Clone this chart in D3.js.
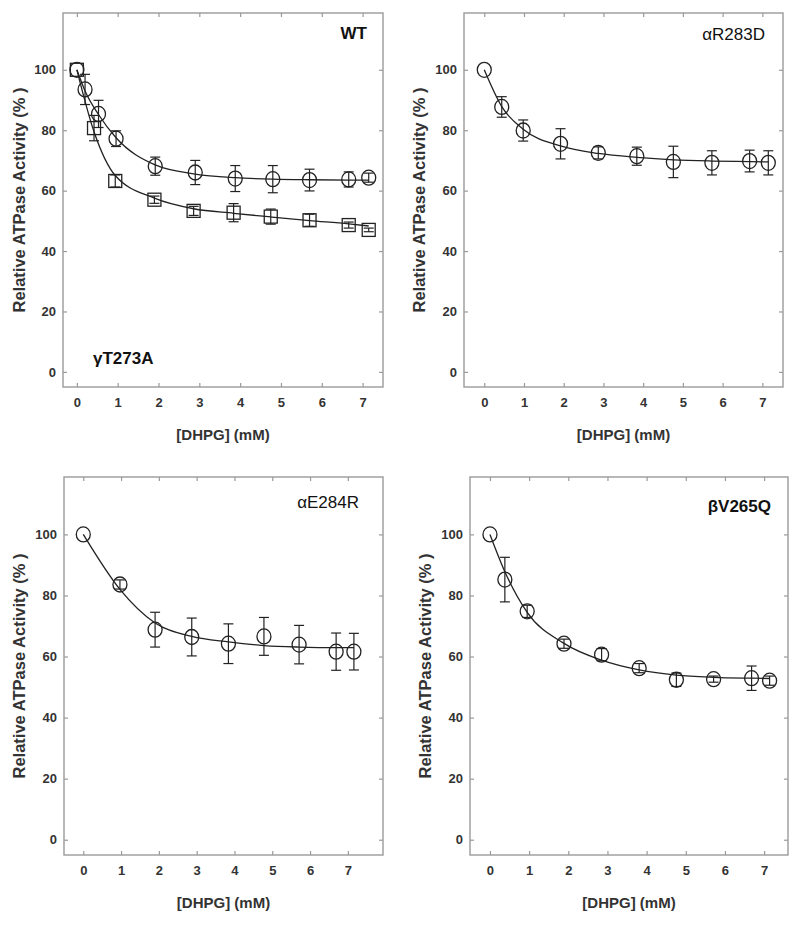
<!DOCTYPE html>
<html>
<head>
<meta charset="utf-8">
<script src="https://cdn.jsdelivr.net/npm/d3@7/dist/d3.min.js"></script>
<style>
  html, body { margin: 0; padding: 0; background: #fff; }
  svg { display: block; font-family: "Liberation Sans", Arial, sans-serif; }
</style>
</head>
<body>
<svg id="chart" width="800" height="926"></svg>
<script>
// ---------- data ----------
const xTicks = [0, 1, 2, 3, 4, 5, 6, 7];
const yTicks = [0, 20, 40, 60, 80, 100];
const xTitle = "[DHPG] (mM)";
const yTitle = "Relative ATPase Activity (% )";

// WT (circles)
const wtX   = [0, 0.2, 0.53, 0.96, 1.92, 2.9, 3.88, 4.8, 5.7, 6.66, 7.15];
const wtY   = [100, 93.5, 85.4, 77.2, 68.1, 66, 64, 63.8, 63.5, 63.7, 64.3];
const wtErr = [0, 5, 4.5, 2.6, 3, 4, 4.3, 4.5, 3.6, 2.5, 1.5];
const wtFit = [100, 93, 85.2, 77.5, 68.5, 65.5, 64.3, 63.8, 63.6, 63.5, 63.5];

// γT273A (squares)
const gX   = [0, 0.42, 0.94, 1.9, 2.86, 3.84, 4.75, 5.7, 6.66, 7.15];
const gY   = [100, 80.7, 63.2, 57, 53.3, 52.7, 51.4, 50.2, 48.6, 47];
const gErr = [0, 4.2, 2, 1.2, 1.5, 3, 2.5, 2, 1, 0.6];
const gFit = [100, 79.5, 65, 57.5, 54, 52.5, 51.3, 50.1, 49, 48.3];

// αR283D
const rX   = [0, 0.44, 0.98, 1.92, 2.87, 3.84, 4.76, 5.73, 6.68, 7.15];
const rY   = [100, 87.7, 79.9, 75.5, 72.5, 71.4, 69.5, 69.2, 69.8, 69.2];
const rErr = [0, 3.4, 3.5, 5, 2, 3, 5.2, 4, 3.6, 4];
const rFit = [100, 87.8, 80.3, 74.8, 72.3, 71, 70.2, 69.8, 69.6, 69.5];

// αE284R
const eX   = [0, 0.97, 1.9, 2.87, 3.84, 4.78, 5.71, 6.69, 7.16];
const eY   = [100, 83.6, 68.8, 66.4, 64.2, 66.6, 63.9, 61.6, 61.6];
const eErr = [0, 1.5, 5.7, 6.2, 6.5, 6.2, 6.3, 6.1, 6];
const eFit = [100, 82, 71, 66.6, 64.8, 63.6, 63.1, 62.9, 62.9];

// βV265Q
const bX   = [0, 0.38, 0.95, 1.89, 2.85, 3.81, 4.76, 5.71, 6.68, 7.14];
const bY   = [100, 85.2, 74.8, 64.2, 60.6, 56.2, 52.4, 52.6, 52.9, 52.1];
const bErr = [0, 7.3, 2, 1.5, 2, 1.5, 2.2, 1, 4, 1.5];
const bFit = [100, 87.8, 74.5, 64.3, 58.8, 55.6, 53.9, 53.2, 52.9, 52.8];

// ---------- layout ----------
const panels = [
  { left: 63, right: 383, top: 13, bottom: 387, xDom: [-0.34, 7.5], yTitleX: 19,
    labels: [{ text: "WT", x: 367, y: 39, anchor: "end", weight: "bold" },
             { text: "γT273A", x: 93, y: 364, anchor: "start", weight: "bold" }],
    series: [
      { x: wtX, y: wtY, err: wtErr, fit: wtFit, shape: "circle" },
      { x: gX, y: gY, err: gErr, fit: gFit, shape: "square" }
    ] },
  { left: 464, right: 783, top: 13, bottom: 387, xDom: [-0.51, 7.52], yTitleX: 419,
    labels: [{ text: "αR283D", x: 765, y: 40, anchor: "end", weight: "normal" }],
    series: [{ x: rX, y: rY, err: rErr, fit: rFit, shape: "circle" }] },
  { left: 64, right: 383, top: 477, bottom: 855, xDom: [-0.51, 7.93], yTitleX: 19,
    labels: [{ text: "αE284R", x: 359, y: 508, anchor: "end", weight: "normal" }],
    series: [{ x: eX, y: eY, err: eErr, fit: eFit, shape: "circle" }] },
  { left: 470, right: 788, top: 477, bottom: 855, xDom: [-0.51, 7.61], yTitleX: 425,
    labels: [{ text: "βV265Q", x: 771, y: 512, anchor: "end", weight: "bold" }],
    series: [{ x: bX, y: bY, err: bErr, fit: bFit, shape: "circle" }] }
];

const svg = d3.select("#chart");
const frameColor = "#9a9a9a";
const inkColor = "#222";
const tickLen = 4;

panels.forEach(p => {
  const x = d3.scaleLinear().domain(p.xDom).range([p.left, p.right]);
  const y = d3.scaleLinear().domain([-5, 118.8]).range([p.bottom, p.top]);
  const g = svg.append("g");

  // axes with inward ticks on all four sides
  const axB = g.append("g").attr("transform", `translate(0,${p.bottom})`)
    .call(d3.axisBottom(x).tickValues(xTicks).tickSize(-tickLen).tickPadding(11).tickFormat(d3.format("d")));
  const axT = g.append("g").attr("transform", `translate(0,${p.top})`)
    .call(d3.axisTop(x).tickValues(xTicks).tickSize(-tickLen).tickFormat(""));
  const axL = g.append("g").attr("transform", `translate(${p.left},0)`)
    .call(d3.axisLeft(y).tickValues(yTicks).tickSize(-tickLen).tickPadding(7).tickFormat(d3.format("d")));
  const axR = g.append("g").attr("transform", `translate(${p.right},0)`)
    .call(d3.axisRight(y).tickValues(yTicks).tickSize(-tickLen).tickFormat(""));
  [axB, axT, axL, axR].forEach(a => {
    a.select(".domain").remove();
    a.selectAll(".tick line").attr("stroke", frameColor).attr("stroke-width", 1.2);
    a.selectAll(".tick text").attr("fill", "#333").attr("font-size", 13).attr("font-weight", "bold")
      .attr("font-family", '"Liberation Sans", Arial, sans-serif');
  });

  // frame
  g.append("rect").attr("x", p.left).attr("y", p.top)
    .attr("width", p.right - p.left).attr("height", p.bottom - p.top)
    .attr("fill", "none").attr("stroke", frameColor).attr("stroke-width", 1.4);

  // axis titles
  g.append("text").attr("x", (p.left + p.right) / 2).attr("y", p.bottom + 53)
    .attr("text-anchor", "middle").attr("font-size", 15).attr("font-weight", "bold").attr("fill", "#333")
    .text(xTitle);
  const cy = (p.top + p.bottom) / 2;
  g.append("text").attr("transform", `translate(${p.yTitleX},${cy}) rotate(-90)`)
    .attr("text-anchor", "middle").attr("dy", "0.35em").attr("font-size", 16.5).attr("font-weight", "bold").attr("fill", "#333")
    .text(yTitle);

  // panel labels
  p.labels.forEach(l => {
    g.append("text").attr("x", l.x).attr("y", l.y).attr("text-anchor", l.anchor)
      .attr("font-size", 17).attr("font-weight", l.weight).attr("fill", "#111").text(l.text);
  });

  // series
  p.series.forEach(s => {
    const pts = s.x.map((xv, i) => ({ x: xv, y: s.y[i], e: s.err[i], f: s.fit[i] }));
    // fitted curve
    g.append("path").datum(pts)
      .attr("d", d3.line().x(d => x(d.x)).y(d => y(d.f)).curve(d3.curveMonotoneX))
      .attr("fill", "none").attr("stroke", inkColor).attr("stroke-width", 1.3);
    // error bars
    const eb = g.append("g").attr("stroke", inkColor).attr("stroke-width", 1.2);
    pts.filter(d => d.e > 0).forEach(d => {
      const cx = x(d.x), y1 = y(d.y + d.e), y2 = y(d.y - d.e);
      eb.append("line").attr("x1", cx).attr("x2", cx).attr("y1", y1).attr("y2", y2);
      eb.append("line").attr("x1", cx - 5).attr("x2", cx + 5).attr("y1", y1).attr("y2", y1);
      eb.append("line").attr("x1", cx - 5).attr("x2", cx + 5).attr("y1", y2).attr("y2", y2);
    });
    // markers
    if (s.shape === "circle") {
      g.selectAll(null).data(pts).enter().append("ellipse")
        .attr("cx", d => x(d.x)).attr("cy", d => y(d.y)).attr("rx", 7).attr("ry", 7.5)
        .attr("fill", "none").attr("stroke", inkColor).attr("stroke-width", 1.3);
    } else {
      g.selectAll(null).data(pts).enter().append("rect")
        .attr("x", d => x(d.x) - 6.5).attr("y", d => y(d.y) - 6.5).attr("width", 13).attr("height", 13)
        .attr("fill", "none").attr("stroke", inkColor).attr("stroke-width", 1.3);
    }
  });
});
</script>
</body>
</html>
